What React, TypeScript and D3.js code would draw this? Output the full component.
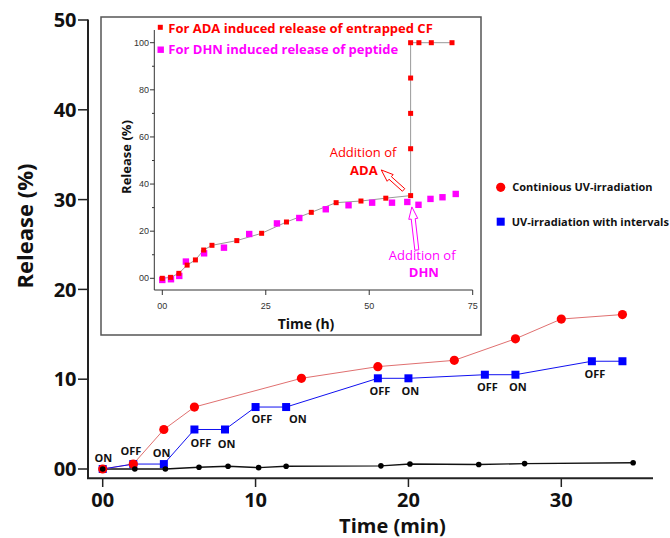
import React from 'react';
import * as d3 from 'd3';

// main chart: release vs time (min)
const redT = [0, 2, 4, 6, 13, 18, 23, 27, 30, 34];
const redV = [0, 0.55, 4.4, 6.9, 10.1, 11.4, 12.1, 14.5, 16.7, 17.2];
const blueT = [0, 2, 4, 6, 8, 10, 12, 18, 20, 25, 27, 32, 34];
const blueV = [0, 0.55, 0.55, 4.4, 4.4, 6.9, 6.9, 10.1, 10.1, 10.5, 10.5, 12.0, 12.0];
const blackT = [0, 2.1, 4.1, 6.3, 8.2, 10.2, 12, 18.2, 20.1, 24.6, 27.6, 34.7];
const blackV = [0, 0, 0, 0.2, 0.3, 0.15, 0.3, 0.35, 0.55, 0.5, 0.6, 0.7];

// ON / OFF annotations (placed in data units)
const switchText = ['ON', 'OFF', 'ON', 'OFF', 'ON', 'OFF', 'ON', 'OFF', 'ON', 'OFF', 'ON', 'OFF'];
const switchT = [0.04, 1.85, 3.86, 6.42, 8.11, 10.42, 12.76, 18.14, 20.12, 25.17, 27.15, 32.2];
const switchV = [0.8, 1.55, 1.3, 2.4, 2.3, 5.15, 5.15, 8.25, 8.25, 8.7, 8.7, 10.1];

const xTicks = [0, 10, 20, 30];
const yTicks = [0, 10, 20, 30, 40, 50];

const legendLabels = ['Continious UV-irradiation', 'UV-irradiation with intervals'];

// inset: release vs time (h)
const adaT = [0, 2, 4, 6, 8, 10, 12, 18, 24, 30, 36, 42, 48, 54, 60, 60, 60, 60, 60, 62, 65, 70];
const adaV = [0, 0.4, 2.1, 5.6, 7.8, 12, 14, 16, 19.1, 23.9, 28, 32.1, 32.8, 34, 35.1, 55, 70, 85, 100, 100, 100, 100];
const dhnT = [0, 2.1, 4.1, 5.7, 10.1, 14.9, 21, 27.7, 33.1, 39.5, 45, 50.7, 55.5, 59.2, 61.9, 64.8, 67.7, 70.9];
const dhnV = [-0.7, -0.4, 1.0, 7.1, 10.6, 13.0, 18.8, 23.3, 25.6, 29.3, 31.0, 32.1, 32.1, 32.4, 31.2, 33.7, 34.4, 35.8];

const insetXTicks = [0, 25, 50, 75];
const insetYTicks = [0, 20, 40, 60, 80, 100];
const insetYMinor = [10, 30, 50, 70, 90];
const insetLegend = ['For ADA induced release of entrapped CF', 'For DHN induced release of peptide'];

const fmt = (d: number) => (d === 0 ? '00' : String(d));
const font = '"Open Sans", "Noto Sans", sans-serif';

const x = d3.scaleLinear().domain([0, 30]).range([102.7, 561.3]);
const y = d3.scaleLinear().domain([0, 50]).range([469, 20]);
const ix = d3.scaleLinear().domain([0, 75]).range([162.3, 472.7]);
const iy = d3.scaleLinear().domain([0, 100]).range([278.3, 42.7]);

const line = (ts: number[], vs: number[], sx: any, sy: any) =>
  d3.line<number>().x((_, i) => sx(ts[i])).y((_, i) => sy(vs[i]))(ts) || '';

// hollow block arrow, tip first
function arrow(tip: number[], tail: number[], hl: number, hw: number, sw: number) {
  const dx = tail[0] - tip[0];
  const dy = tail[1] - tip[1];
  const L = Math.hypot(dx, dy);
  const ux = dx / L, uy = dy / L, px = -uy, py = ux;
  const pts = [[0, 0], [hl, -hw / 2], [hl, -sw / 2], [L, -sw / 2], [L, sw / 2], [hl, sw / 2], [hl, hw / 2]];
  return pts.map(([a, b]) => `${tip[0] + ux * a + px * b},${tip[1] + uy * a + py * b}`).join(' ');
}

const Inset = () => {
  const ada = [ix(52.9), iy(46)];
  const adaTail = [ix(58.3), iy(37.5)];
  const dhn = [ix(60.3), iy(30.3)];
  const dhnTail = [ix(61.5), iy(12)];
  return (
    <g>
      <rect x={101} y={17} width={380} height={318} fill="#fff" stroke="#555" strokeWidth={1.5} />
      <line x1={154.3} x2={154.3} y1={30} y2={290} stroke="#333" strokeWidth={1} />
      <line x1={154.3} x2={472.7} y1={290} y2={290} stroke="#333" strokeWidth={1} />
      {insetYTicks.map((d) => (
        <g key={d}>
          <line x1={150} x2={154.3} y1={iy(d)} y2={iy(d)} stroke="#333" />
          <text x={149} y={iy(d)} dy="0.35em" textAnchor="end" fontSize={9} fill="#333"
            fontFamily='"Liberation Sans", sans-serif'>{fmt(d)}</text>
        </g>
      ))}
      {insetYMinor.map((d) => (
        <line key={d} x1={152} x2={154.3} y1={iy(d)} y2={iy(d)} stroke="#333" />
      ))}
      {insetXTicks.map((d) => (
        <g key={d}>
          <line x1={ix(d)} x2={ix(d)} y1={290} y2={295} stroke="#333" />
          <text x={ix(d)} y={309} textAnchor="middle" fontSize={9} fill="#333"
            fontFamily='"Liberation Sans", sans-serif'>{fmt(d)}</text>
        </g>
      ))}
      <text x={306} y={329} textAnchor="middle" fontSize={14} fontWeight="bold" fill="#111">Time (h)</text>
      <text transform="translate(131,157) rotate(-90)" textAnchor="middle" fontSize={13} fontWeight="bold" fill="#111">
        Release (%)
      </text>

      <path d={line(adaT, adaV, ix, iy)} fill="none" stroke="#999" strokeWidth={1} />
      {dhnT.map((t, i) => (
        <rect key={'m' + i} x={ix(t) - 3.2} y={iy(dhnV[i]) - 3.2} width={6.4} height={6.4} fill="#ff00ff" />
      ))}
      {adaT.map((t, i) => (
        <rect key={'r' + i} x={ix(t) - 2.5} y={iy(adaV[i]) - 2.5} width={5} height={5} fill="#ff0000" />
      ))}

      <rect x={157.8} y={24.8} width={5} height={5} fill="#ff0000" />
      <text x={168.3} y={32.7} fontSize={13} fontWeight="bold" fill="#ff0000">{insetLegend[0]}</text>
      <rect x={157.5} y={46.5} width={6.4} height={6.4} fill="#ff00ff" />
      <text x={168.3} y={54.3} fontSize={13} fontWeight="bold" fill="#ff00ff">{insetLegend[1]}</text>

      <text x={ix(48.5)} y={iy(51.3)} textAnchor="middle" fontSize={13} fill="#ff0000">Addition of</text>
      <text x={ix(48.7)} y={iy(43.8)} textAnchor="middle" fontSize={13} fontWeight="bold" fill="#ff0000">ADA</text>
      <polygon points={arrow(ada, adaTail, 12, 9, 3.5)} fill="#fff" stroke="#ff0000" strokeWidth={1} />
      <text x={ix(62.8)} y={iy(7.8)} textAnchor="middle" fontSize={13} fill="#ff00ff">Addition of</text>
      <text x={ix(63.2)} y={iy(0.7)} textAnchor="middle" fontSize={13} fontWeight="bold" fill="#ff00ff">DHN</text>
      <polygon points={arrow(dhn, dhnTail, 12, 9, 4)} fill="#fff" stroke="#ff00ff" strokeWidth={1} />
    </g>
  );
};

export default function App() {
  return (
    <svg width={670} height={538} style={{ position: 'absolute', left: 0, top: 0, background: '#fff' }}
      fontFamily={font}>
      {/* axes */}
      <line x1={88} x2={88} y1={19.5} y2={479} stroke="#222" strokeWidth={2} />
      <line x1={87} x2={653} y1={478.3} y2={478.3} stroke="#222" strokeWidth={2} />
      {yTicks.map((d) => (
        <g key={d}>
          <line x1={78} x2={88} y1={y(d)} y2={y(d)} stroke="#222" strokeWidth={1.5} />
          <text x={76.5} y={y(d)} dy="0.36em" textAnchor="end" fontSize={20} fontWeight="bold" fill="#111">{fmt(d)}</text>
        </g>
      ))}
      {xTicks.map((d) => (
        <g key={d}>
          <line x1={x(d)} x2={x(d)} y1={478} y2={487} stroke="#222" strokeWidth={1.5} />
          <text x={x(d)} y={507} textAnchor="middle" fontSize={20} fontWeight="bold" fill="#111">{fmt(d)}</text>
        </g>
      ))}
      <text x={392.5} y={533} textAnchor="middle" fontSize={20} fontWeight="bold" fill="#111">Time (min)</text>
      <text transform="translate(33,226) rotate(-90)" textAnchor="middle" fontSize={22} fontWeight="bold" fill="#111">
        Release (%)
      </text>

      <Inset />

      {/* series */}
      <path d={line(blackT, blackV, x, y)} fill="none" stroke="#111" strokeWidth={1.4} />
      <path d={line(redT, redV, x, y)} fill="none" stroke="#e07070" strokeWidth={1} />
      <path d={line(blueT, blueV, x, y)} fill="none" stroke="#1010f0" strokeWidth={1} />
      {blueT.map((t, i) => (
        <rect key={'b' + i} x={x(t) - 4} y={y(blueV[i]) - 4} width={8} height={8} fill="#0000ff" />
      ))}
      {redT.map((t, i) => (
        <circle key={'r' + i} cx={x(t)} cy={y(redV[i])} r={4.6} fill="#ff0000" />
      ))}
      {blackT.map((t, i) => (
        <circle key={'k' + i} cx={x(t)} cy={y(blackV[i])} r={2.8} fill="#000" />
      ))}
      {switchText.map((s, i) => (
        <text key={'s' + i} x={x(switchT[i])} y={y(switchV[i])} textAnchor="middle" fontSize={11}
          fontWeight="bold" fill="#111">{s}</text>
      ))}

      {/* legend */}
      <circle cx={500.7} cy={187.3} r={4.6} fill="#ff0000" />
      <text x={512.3} y={191} fontSize={11} fontWeight="bold" fill="#111">{legendLabels[0]}</text>
      <rect x={496.7} y={217.7} width={8} height={8} fill="#0000ff" />
      <text x={511.7} y={225.5} fontSize={11} fontWeight="bold" fill="#111">{legendLabels[1]}</text>
    </svg>
  );
}
